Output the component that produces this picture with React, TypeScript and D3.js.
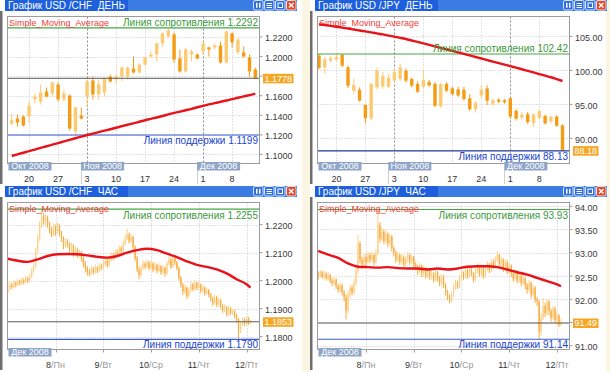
import React from 'react';
import * as d3 from 'd3';

type Bar = [number, number, number, number]; // open, high, low, close

const FONT = '"Liberation Sans", Arial, sans-serif';

// x axis of the daily charts (indices of trading days, first bar = 15 Oct 2008)
const dailyMondays = [3, 8, 13, 18, 23, 28, 33, 38];
const dailyDayLabels = ['20', '27', '3', '10', '17', '24', '1', '8'];
const dailyMonthStarts = [0, 13, 33];
const dailyMonthLabels = ['Окт 2008', 'Ноя 2008', 'Дек 2008'];

// x axis of the hourly charts (hour indices)
const hourDayStarts = [24, 48, 72, 96, 120];
const hourDayNums = ['8', '9', '10', '11', '12'];
const hourDayNames = ['Пн', 'Вт', 'Ср', 'Чт', 'Пт'];
const hourMonthLabels = ['Дек 2008'];

const chfDailyTicks = [1.1, 1.12, 1.14, 1.16, 1.18, 1.2, 1.22];
const jpyDailyTicks = [90, 95, 100, 105];
const chfHourTicks = [1.18, 1.19, 1.2, 1.21, 1.22];
const jpyHourTicks = [91, 91.5, 92, 92.5, 93, 93.5, 94];

const chfDailyBars: Bar[] = [
  [1.1316, 1.1419, 1.1296, 1.135], [1.1367, 1.1408, 1.1286, 1.1327], [1.1388, 1.1398, 1.1286, 1.1296],
  [1.1388, 1.1541, 1.1327, 1.15], [1.1562, 1.1623, 1.1521, 1.1592], [1.1541, 1.1715, 1.151, 1.1633],
  [1.1643, 1.1684, 1.1582, 1.1592], [1.1623, 1.1745, 1.1592, 1.1735], [1.1715, 1.1735, 1.1541, 1.1562],
  [1.1562, 1.1664, 1.1541, 1.1623], [1.1602, 1.1613, 1.1245, 1.1265], [1.1235, 1.149, 1.1199, 1.148],
  [1.1398, 1.148, 1.1357, 1.1367], [1.1592, 1.1766, 1.148, 1.1745], [1.1756, 1.1796, 1.1562, 1.1613],
  [1.1613, 1.1766, 1.1562, 1.1715], [1.1633, 1.1786, 1.1592, 1.1776], [1.1796, 1.1817, 1.1735, 1.1745],
  [1.1766, 1.1817, 1.1715, 1.1796], [1.1796, 1.1899, 1.1745, 1.1888], [1.1796, 1.1899, 1.1766, 1.1888],
  [1.1878, 1.2001, 1.1827, 1.1837], [1.1837, 1.1929, 1.1827, 1.1919], [1.1919, 1.2001, 1.1909, 1.199],
  [1.2001, 1.2052, 1.199, 1.2021], [1.2021, 1.2144, 1.195, 1.2134], [1.2134, 1.2246, 1.2103, 1.2236],
  [1.2205, 1.2292, 1.2195, 1.2266], [1.2226, 1.2246, 1.194, 1.197], [1.198, 1.2072, 1.1837, 1.1848],
  [1.1848, 1.2093, 1.1837, 1.2072], [1.2021, 1.2072, 1.195, 1.2052], [1.2021, 1.2031, 1.197, 1.198],
  [1.2052, 1.2144, 1.2021, 1.2134], [1.2093, 1.2103, 1.2001, 1.2072], [1.2093, 1.2134, 1.2072, 1.2113],
  [1.2113, 1.2154, 1.1929, 1.194], [1.194, 1.2266, 1.1929, 1.2256], [1.2236, 1.2246, 1.2093, 1.2144],
  [1.2042, 1.2185, 1.2021, 1.2174], [1.2042, 1.2103, 1.199, 1.2001], [1.199, 1.2021, 1.1796, 1.1848],
  [1.1868, 1.1888, 1.1776, 1.1778],
];
const chfDailySma = [
  1.0985, 1.1002, 1.1018, 1.1035, 1.105, 1.1068, 1.1084, 1.11, 1.1117, 1.1133, 1.115, 1.1166, 1.1183, 1.1199,
  1.1213, 1.1228, 1.1244, 1.1258, 1.1273, 1.1289, 1.1304, 1.1318, 1.1334, 1.135, 1.1364, 1.1378, 1.1393,
  1.1409, 1.1425, 1.1438, 1.1452, 1.1466, 1.1482, 1.1497, 1.1511, 1.1524, 1.1538, 1.1551, 1.1566, 1.1579,
  1.1593, 1.1606, 1.162,
];

const jpyDailyBars: Bar[] = [
  [102.2, 102.42, 100.15, 100.35], [100.45, 102.0, 99.5, 101.6], [101.45, 102.1, 101.2, 101.8],
  [101.6, 102.4, 101.4, 102.0], [102.3, 102.4, 100.5, 100.7], [100.45, 100.7, 97.4, 97.75],
  [97.0, 98.8, 96.6, 97.85], [97.15, 97.5, 95.4, 95.55], [94.9, 95.0, 92.2, 92.95],
  [92.95, 98.2, 92.7, 98.0], [97.5, 100.4, 97.2, 100.0], [97.65, 99.8, 97.3, 99.15],
  [97.6, 99.5, 97.4, 98.9], [98.5, 100.3, 98.2, 99.75], [98.75, 101.0, 98.4, 100.45],
  [99.95, 100.3, 98.2, 98.5], [98.75, 98.95, 97.5, 97.75], [98.0, 98.4, 96.7, 96.85],
  [97.6, 100.1, 97.4, 98.6], [98.3, 98.6, 97.6, 97.8], [98.0, 98.3, 94.6, 94.8],
  [94.7, 98.2, 94.5, 98.0], [98.0, 98.3, 96.8, 97.0], [97.35, 97.6, 96.3, 96.5],
  [97.2, 97.6, 96.1, 96.3], [97.15, 97.6, 95.5, 95.8], [95.9, 96.5, 94.0, 94.3],
  [94.3, 95.5, 93.8, 95.2], [96.3, 97.8, 95.9, 97.15], [97.35, 97.8, 94.9, 95.55],
  [95.1, 95.9, 94.8, 95.6], [95.7, 95.9, 95.2, 95.4], [95.6, 95.8, 95.1, 95.3],
  [95.9, 96.0, 93.0, 93.2], [94.05, 94.3, 92.6, 92.9], [93.05, 93.9, 92.6, 93.5],
  [93.55, 93.9, 92.1, 92.4], [92.25, 93.7, 91.7, 93.5], [93.0, 94.3, 92.8, 94.0],
  [93.3, 93.5, 92.0, 92.2], [92.5, 93.3, 92.2, 93.2], [93.2, 93.4, 91.7, 91.85],
  [91.9, 92.05, 88.13, 88.18],
];
const jpyDailySma = [
  106.79, 106.68, 106.56, 106.43, 106.3, 106.15, 106.02, 105.88, 105.74, 105.6, 105.45, 105.3, 105.13,
  104.97, 104.8, 104.62, 104.41, 104.2, 103.98, 103.76, 103.53, 103.31, 103.09, 102.87, 102.66, 102.44,
  102.21, 101.98, 101.75, 101.52, 101.3, 101.07, 100.85, 100.62, 100.4, 100.17, 99.93, 99.7, 99.46,
  99.22, 98.99, 98.72, 98.44,
];

const chfHourBars: Bar[] = [
  [1.1958, 1.1988, 1.1951, 1.197], [1.197, 1.1995, 1.1963, 1.1985], [1.1985, 1.1992, 1.197, 1.1978],
  [1.1978, 1.2001, 1.1972, 1.1992], [1.1992, 1.1998, 1.1976, 1.1985], [1.1985, 1.2008, 1.198, 1.1998],
  [1.1998, 1.2003, 1.1982, 1.199], [1.199, 1.2012, 1.1985, 1.2003], [1.2003, 1.2008, 1.1986, 1.1995],
  [1.1995, 1.2018, 1.199, 1.2008], [1.2008, 1.2014, 1.1991, 1.2], [1.2, 1.2024, 1.1995, 1.2015],
  [1.2015, 1.2045, 1.201, 1.2035], [1.2035, 1.2064, 1.2028, 1.205], [1.205, 1.2118, 1.2045, 1.2105],
  [1.2105, 1.2165, 1.2098, 1.215], [1.215, 1.2212, 1.214, 1.2195], [1.2195, 1.2255, 1.2188, 1.223],
  [1.223, 1.2242, 1.22, 1.2215], [1.2215, 1.2238, 1.2196, 1.2225], [1.2225, 1.2232, 1.2188, 1.22],
  [1.22, 1.221, 1.2168, 1.218], [1.218, 1.2192, 1.2155, 1.2165], [1.2165, 1.2204, 1.2158, 1.219],
  [1.219, 1.22, 1.216, 1.2175], [1.2175, 1.2208, 1.2168, 1.2195], [1.2195, 1.2202, 1.2158, 1.217],
  [1.217, 1.2178, 1.2138, 1.215], [1.215, 1.2158, 1.2112, 1.2125], [1.2125, 1.2152, 1.2116, 1.214],
  [1.214, 1.2148, 1.2118, 1.213], [1.213, 1.2138, 1.2098, 1.211], [1.211, 1.2136, 1.2102, 1.2125],
  [1.2125, 1.213, 1.2085, 1.2095], [1.2095, 1.2122, 1.2088, 1.211], [1.211, 1.2118, 1.208, 1.209],
  [1.209, 1.2112, 1.2082, 1.21], [1.21, 1.2106, 1.2068, 1.208], [1.208, 1.2088, 1.2048, 1.206],
  [1.206, 1.207, 1.203, 1.2045], [1.2045, 1.2052, 1.2018, 1.203], [1.203, 1.2042, 1.2015, 1.2025],
  [1.2025, 1.2052, 1.202, 1.204], [1.204, 1.2048, 1.2022, 1.203], [1.203, 1.2058, 1.2025, 1.2045],
  [1.2045, 1.2052, 1.2026, 1.2035], [1.2035, 1.2062, 1.203, 1.205], [1.205, 1.206, 1.2036, 1.2045],
  [1.2045, 1.2072, 1.204, 1.206], [1.206, 1.2082, 1.2052, 1.207], [1.207, 1.2078, 1.2046, 1.2055],
  [1.2055, 1.2086, 1.205, 1.2075], [1.2075, 1.2102, 1.2068, 1.209], [1.209, 1.2098, 1.2072, 1.208],
  [1.208, 1.2112, 1.2075, 1.21], [1.21, 1.211, 1.2086, 1.2095], [1.2095, 1.2126, 1.209, 1.2115],
  [1.2115, 1.2124, 1.2096, 1.2105], [1.2105, 1.2142, 1.21, 1.213], [1.213, 1.2164, 1.2124, 1.215],
  [1.215, 1.2185, 1.2144, 1.2165], [1.2165, 1.2172, 1.2132, 1.214], [1.214, 1.217, 1.2134, 1.2155],
  [1.2155, 1.216, 1.211, 1.212], [1.212, 1.2126, 1.207, 1.208], [1.208, 1.2088, 1.203, 1.204],
  [1.204, 1.205, 1.2005, 1.202], [1.202, 1.2056, 1.2015, 1.2045], [1.2045, 1.2072, 1.2038, 1.206],
  [1.206, 1.2068, 1.204, 1.205], [1.205, 1.2076, 1.2044, 1.2065], [1.2065, 1.207, 1.2036, 1.2045],
  [1.2045, 1.2072, 1.204, 1.206], [1.206, 1.2066, 1.203, 1.204], [1.204, 1.2066, 1.2034, 1.2055],
  [1.2055, 1.206, 1.2026, 1.2035], [1.2035, 1.2062, 1.203, 1.205], [1.205, 1.2056, 1.202, 1.203],
  [1.203, 1.2056, 1.2024, 1.2045], [1.2045, 1.205, 1.2014, 1.2025], [1.2025, 1.207, 1.202, 1.206],
  [1.206, 1.2088, 1.2054, 1.2075], [1.2075, 1.2082, 1.2042, 1.205], [1.205, 1.2092, 1.2045, 1.208],
  [1.208, 1.2086, 1.2056, 1.2065], [1.2065, 1.207, 1.2036, 1.2045], [1.2045, 1.205, 1.2, 1.201],
  [1.201, 1.2016, 1.1975, 1.1985], [1.1985, 1.1992, 1.1948, 1.196], [1.196, 1.1986, 1.1952, 1.1975],
  [1.1975, 1.198, 1.1935, 1.1945], [1.1945, 1.1975, 1.194, 1.1965], [1.1965, 1.1995, 1.196, 1.1985],
  [1.1985, 1.1992, 1.1962, 1.197], [1.197, 1.2002, 1.1964, 1.199], [1.199, 1.1996, 1.1966, 1.1975],
  [1.1975, 1.1996, 1.1968, 1.1985], [1.1985, 1.199, 1.1955, 1.1965], [1.1965, 1.1986, 1.1958, 1.1975],
  [1.1975, 1.198, 1.1946, 1.1955], [1.1955, 1.1975, 1.1948, 1.1965], [1.1965, 1.197, 1.194, 1.195],
  [1.195, 1.1956, 1.1925, 1.1935], [1.1935, 1.1942, 1.191, 1.192], [1.192, 1.195, 1.1914, 1.194],
  [1.194, 1.1946, 1.1905, 1.1915], [1.1915, 1.194, 1.1908, 1.193], [1.193, 1.1936, 1.19, 1.191],
  [1.191, 1.1916, 1.1885, 1.1895], [1.1895, 1.1916, 1.1888, 1.1905], [1.1905, 1.191, 1.1872, 1.188],
  [1.188, 1.191, 1.1874, 1.19], [1.19, 1.1906, 1.1878, 1.1885], [1.1885, 1.1898, 1.1876, 1.189],
  [1.189, 1.1896, 1.1866, 1.1875], [1.1875, 1.1882, 1.185, 1.186], [1.186, 1.1866, 1.179, 1.182],
  [1.182, 1.1856, 1.1812, 1.1845], [1.1845, 1.187, 1.1838, 1.186], [1.186, 1.1866, 1.1838, 1.1845],
  [1.1845, 1.1872, 1.184, 1.1865], [1.1865, 1.187, 1.1842, 1.185], [1.185, 1.186, 1.1844, 1.1853],
];
const chfHourSmaAt = [0, 5, 10, 15, 20, 25, 30, 35, 40, 45, 50, 55, 60, 65, 70, 75, 80, 85, 90, 95, 100, 105, 110, 115, 120, 122];
const chfHourSma = [
  1.2078, 1.2071, 1.2067, 1.2076, 1.2088, 1.2094, 1.2095, 1.2094, 1.209, 1.2085, 1.2082, 1.2088, 1.21,
  1.2109, 1.2114, 1.2109, 1.2096, 1.2084, 1.2069, 1.2056, 1.2049, 1.204, 1.2026, 1.2005, 1.1987, 1.1975,
];

const jpyHourBars: Bar[] = [
  [92.55, 92.6, 92.42, 92.5], [92.5, 92.63, 92.46, 92.58], [92.58, 92.62, 92.44, 92.48],
  [92.48, 92.61, 92.43, 92.55], [92.55, 92.58, 92.4, 92.45], [92.45, 92.58, 92.4, 92.52],
  [92.52, 92.55, 92.35, 92.4], [92.4, 92.46, 92.28, 92.35], [92.35, 92.48, 92.3, 92.42],
  [92.42, 92.45, 92.22, 92.28], [92.28, 92.33, 92.14, 92.2], [92.2, 92.36, 92.15, 92.3],
  [92.3, 92.34, 92.08, 92.15], [92.15, 92.2, 91.95, 92.05], [92.05, 92.1, 91.57, 91.75],
  [91.75, 92.18, 91.7, 92.1], [92.1, 92.32, 92.02, 92.25], [92.25, 92.3, 92.08, 92.15],
  [92.15, 92.43, 92.1, 92.35], [92.35, 92.7, 92.3, 92.6], [92.6, 93.38, 92.55, 93.2],
  [93.2, 93.25, 92.78, 92.85], [92.85, 92.92, 92.66, 92.75], [92.75, 92.98, 92.7, 92.9],
  [92.9, 92.96, 92.72, 92.8], [92.8, 93.02, 92.74, 92.95], [92.95, 93.0, 92.78, 92.85],
  [92.85, 93.03, 92.8, 92.95], [92.95, 92.98, 92.72, 92.8], [92.8, 93.08, 92.76, 93.0],
  [93.0, 93.93, 92.95, 93.6], [93.6, 93.66, 93.22, 93.3], [93.3, 93.55, 93.25, 93.45],
  [93.45, 93.5, 93.18, 93.25], [93.25, 93.48, 93.2, 93.4], [93.4, 93.44, 93.12, 93.2],
  [93.2, 93.42, 93.15, 93.35], [93.35, 93.38, 93.02, 93.1], [93.1, 93.15, 92.92, 93.0],
  [93.0, 93.05, 92.78, 92.85], [92.85, 93.02, 92.8, 92.95], [92.95, 92.98, 92.74, 92.8],
  [92.8, 92.97, 92.75, 92.9], [92.9, 92.94, 92.68, 92.75], [92.75, 92.93, 92.7, 92.85],
  [92.85, 93.02, 92.8, 92.95], [92.95, 92.98, 92.74, 92.8], [92.8, 92.96, 92.75, 92.9],
  [92.9, 92.93, 92.68, 92.75], [92.75, 92.8, 92.62, 92.7], [92.7, 92.74, 92.52, 92.6],
  [92.6, 92.78, 92.56, 92.72], [92.72, 92.75, 92.48, 92.55], [92.55, 92.72, 92.5, 92.65],
  [92.65, 92.68, 92.44, 92.5], [92.5, 92.68, 92.46, 92.62], [92.62, 92.66, 92.42, 92.48],
  [92.48, 92.62, 92.42, 92.55], [92.55, 92.58, 92.36, 92.42], [92.42, 92.65, 92.38, 92.58],
  [92.58, 92.62, 92.38, 92.45], [92.45, 92.5, 92.28, 92.35], [92.35, 92.54, 92.3, 92.48],
  [92.48, 92.52, 92.24, 92.3], [92.3, 92.35, 92.08, 92.15], [92.15, 92.2, 91.98, 92.05],
  [92.05, 92.1, 91.92, 91.95], [91.95, 92.16, 91.93, 92.1], [92.1, 92.32, 92.05, 92.25],
  [92.25, 92.42, 92.2, 92.35], [92.35, 92.4, 92.22, 92.28], [92.28, 92.52, 92.24, 92.45],
  [92.45, 92.62, 92.4, 92.55], [92.55, 92.6, 92.42, 92.48], [92.48, 92.68, 92.44, 92.62],
  [92.62, 92.66, 92.44, 92.5], [92.5, 92.72, 92.46, 92.65], [92.65, 92.7, 92.5, 92.55],
  [92.55, 92.58, 92.36, 92.42], [92.42, 92.67, 92.38, 92.6], [92.6, 92.77, 92.55, 92.7],
  [92.7, 92.74, 92.48, 92.55], [92.55, 92.75, 92.5, 92.68], [92.68, 92.72, 92.44, 92.5],
  [92.5, 92.72, 92.46, 92.65], [92.65, 92.82, 92.6, 92.75], [92.75, 92.78, 92.56, 92.62],
  [92.62, 92.87, 92.58, 92.8], [92.8, 92.85, 92.64, 92.7], [92.7, 92.92, 92.66, 92.85],
  [92.85, 93.03, 92.8, 92.95], [92.95, 92.98, 92.7, 92.75], [92.75, 92.92, 92.7, 92.85],
  [92.85, 92.88, 92.58, 92.65], [92.65, 92.86, 92.6, 92.8], [92.8, 92.84, 92.54, 92.6],
  [92.6, 92.78, 92.56, 92.72], [92.72, 92.75, 92.48, 92.55], [92.55, 92.6, 92.38, 92.45],
  [92.45, 92.64, 92.4, 92.58], [92.58, 92.62, 92.34, 92.4], [92.4, 92.56, 92.35, 92.5],
  [92.5, 92.54, 92.28, 92.35], [92.35, 92.52, 92.3, 92.45], [92.45, 92.48, 92.22, 92.3],
  [92.3, 92.35, 92.12, 92.2], [92.2, 92.42, 92.15, 92.35], [92.35, 92.38, 92.02, 92.1],
  [92.1, 92.32, 92.05, 92.25], [92.25, 92.28, 91.92, 92.0], [92.0, 92.05, 91.85, 91.95],
  [91.95, 91.98, 91.14, 91.3], [91.3, 91.7, 91.22, 91.6], [91.6, 92.02, 91.55, 91.85],
  [91.85, 91.92, 91.62, 91.7], [91.7, 92.0, 91.65, 91.95], [91.95, 91.98, 91.66, 91.75],
  [91.75, 91.8, 91.52, 91.6], [91.6, 91.86, 91.55, 91.8], [91.8, 91.84, 91.48, 91.55],
  [91.55, 91.72, 91.44, 91.65], [91.65, 91.68, 91.4, 91.45], [91.45, 91.58, 91.42, 91.49],
];
const jpyHourSmaAt = [0, 5, 10, 15, 20, 25, 30, 35, 40, 45, 50, 55, 60, 65, 70, 75, 80, 85, 90, 95, 100, 105, 110, 115, 120, 122];
const jpyHourSma = [
  93.04, 92.96, 92.89, 92.77, 92.7, 92.69, 92.68, 92.69, 92.67, 92.66, 92.66, 92.64, 92.66, 92.64, 92.66,
  92.7, 92.71, 92.71, 92.69, 92.64, 92.58, 92.53, 92.46, 92.39, 92.32, 92.28,
];

const PL = 7.5, PR = 259.5, PT = 16.5, PB = 163.5;

type PanelProps = {
  id: string;
  dx: number;
  dy: number;
  title: string;
  bars: Bar[];
  sma: [number, number][];
  yDomain: [number, number];
  yTicks: number[];
  digits: number;
  xRange: [number, number];
  resistance: number;
  support: number;
  current: number;
  daily: boolean;
};

function TitleBar({ title }: { title: string }) {
  const btn = [253, 264, 275, 286];
  return (
    <g>
      <rect x={5} y={0} width={292} height={11} fill="#3b7be4" />
      <rect x={5} y={0} width={123} height={11} fill="#1d5fdc" />
      <text x={8} y={9} fill="#fff" fontSize={10} fontFamily={FONT} style={{ whiteSpace: 'pre' }}>{title}</text>
      {btn.map((bx, i) => (
        <g key={i}>
          <rect x={bx + 0.5} y={0.5} width={9.5} height={9.5} rx={1.5} fill={i === 3 ? '#e2492b' : '#2f6ee0'} stroke="#fff" strokeWidth={0.8} />
          {i === 0 && <g fill="#fff"><rect x={bx + 3} y={2.8} width={1.5} height={5} /><rect x={bx + 6} y={2.8} width={1.5} height={5} /></g>}
          {i === 1 && <g stroke="#fff" strokeWidth={1}><line x1={bx + 2.5} x2={bx + 8} y1={3.5} y2={3.5} /><line x1={bx + 2.5} x2={bx + 8} y1={5.5} y2={5.5} /><line x1={bx + 2.5} x2={bx + 8} y1={7.5} y2={7.5} /></g>}
          {i === 2 && <rect x={bx + 3} y={3} width={4.5} height={4.5} fill="none" stroke="#fff" strokeWidth={1} />}
          {i === 3 && <g stroke="#fff" strokeWidth={1.4}><line x1={bx + 3} x2={bx + 7.5} y1={3} y2={7.5} /><line x1={bx + 7.5} x2={bx + 3} y1={3} y2={7.5} /></g>}
        </g>
      ))}
    </g>
  );
}

function Panel(p: PanelProps) {
  const x = d3.scaleLinear().domain([0, p.bars.length - 1]).range(p.xRange);
  const y = d3.scaleLinear().domain(p.yDomain).range([PB, PT]);
  const fmt = d3.format(`.${p.digits}f`);
  const smaLine = d3.line<[number, number]>().x(d => x(d[0])).y(d => y(d[1])).curve(d3.curveMonotoneX);
  const light = p.daily ? '#fcca72' : '#fdd08a';
  const dark = p.daily ? '#f59c16' : '#f7ae42';
  const bodyW = p.daily ? 3.4 : 1.3;
  const yCur = y(p.current);
  const yRes = y(p.resistance);
  const ySup = y(p.support);
  const resAbove = yRes - PT >= 10;
  const curText = fmt(p.current);
  const curW = curText.replace('.', '').length * 5 + 5.5;

  return (
    <g transform={`translate(${p.dx},${p.dy})`} fontFamily={FONT}>
      <defs>
        <clipPath id={`clip-${p.id}`}><rect x={PL} y={PT} width={PR - PL} height={PB - PT} /></clipPath>
      </defs>
      <TitleBar title={p.title} />
      <rect x={0} y={11} width={2.5} height={173} fill="#6e6e6e" />

      {/* grid */}
      {p.yTicks.map((t, i) => (
        <line key={i} x1={PL} x2={PR} y1={Math.round(y(t)) + 0.5} y2={Math.round(y(t)) + 0.5} stroke="#c4c4c4" strokeDasharray="1,2" />
      ))}
      {p.daily
        ? dailyMondays.map((m, i) => {
            const month = dailyMonthStarts.includes(m);
            return <line key={i} x1={Math.round(x(m)) + 0.5} x2={Math.round(x(m)) + 0.5} y1={PT} y2={PB} stroke={month ? '#8a8a8a' : '#c4c4c4'} strokeDasharray={month ? '2,2' : '1,2'} />;
          })
        : hourDayStarts.map((h, i) => (
            <line key={i} x1={Math.round(x(h)) + 0.5} x2={Math.round(x(h)) + 0.5} y1={PT} y2={PB} stroke="#c4c4c4" strokeDasharray="1,2" />
          ))}

      <g clipPath={`url(#clip-${p.id})`}>
        {p.bars.map((b, i) => {
          const [o, h, l, c] = b;
          const col = c >= o ? light : dark;
          const cx = x(i);
          const top = y(Math.max(o, c));
          const bot = y(Math.min(o, c));
          return (
            <g key={i}>
              <line x1={cx} x2={cx} y1={y(h)} y2={y(l)} stroke={col} strokeWidth={1} />
              <rect x={cx - bodyW / 2} y={top} width={bodyW} height={Math.max(1, bot - top)} fill={col} />
            </g>
          );
        })}
        <line x1={PL} x2={PR} y1={yCur} y2={yCur} stroke="#5a5a5a" strokeWidth={1} />
        <line x1={PL} x2={PR} y1={yRes} y2={yRes} stroke="#45a845" strokeWidth={1.2} />
        <line x1={PL} x2={PR} y1={ySup} y2={ySup} stroke="#3b5bd6" strokeWidth={1.2} />
        <text x={9} y={26} fontSize={9} fill="#f03c3c">Simple_Moving_Average</text>
        <path d={smaLine(p.sma) || ''} fill="none" stroke="#e8121a" strokeWidth={2.4} />
      </g>

      <text x={PR - 1.5} y={resAbove ? yRes - 2 : yRes + 9.5} fontSize={10} fill="#3c9a3c" textAnchor="end">
        {`Линия сопротивления ${fmt(p.resistance)}`}
      </text>
      <text x={PR - 1.5} y={ySup + 9} fontSize={10} fill="#2244d0" textAnchor="end">
        {`Линия поддержки ${fmt(p.support)}`}
      </text>

      <rect x={PL} y={PT} width={PR - PL} height={PB - PT} fill="none" stroke="#9c9c9c" strokeWidth={1} />

      {/* price axis */}
      {p.yTicks.map((t, i) => (
        <g key={i}>
          <line x1={PR} x2={PR + 3} y1={y(t)} y2={y(t)} stroke="#9c9c9c" />
          {Math.abs(y(t) - yCur) > 9 && (
            <text x={265} y={y(t) + 4.5} fontSize={9} fill="#3a3a3a">{fmt(t)}</text>
          )}
        </g>
      ))}
      <rect x={263} y={yCur - 4.5} width={curW} height={9.5} fill="#f6a623" />
      <text x={264.5} y={yCur + 3.5} fontSize={9} fill="#fff">{curText}</text>

      {/* time axis */}
      {p.daily ? (
        <g>
          {dailyMonthStarts.map((m, i) => {
            const bx = Math.max(PL + 1, x(m) - 6);
            return (
              <g key={i}>
                {i > 0 && <line x1={Math.round(bx) + 0.5} x2={Math.round(bx) + 0.5} y1={170} y2={184} stroke="#d0d0d0" />}
                <rect x={bx} y={162} width={43} height={8.5} fill="#8ea5c7" />
                <text x={bx + 21.5} y={169.3} fontSize={9} fill="#fff" textAnchor="middle">{dailyMonthLabels[i]}</text>
              </g>
            );
          })}
          {dailyMondays.map((m, i) => (
            <text key={i} x={x(m)} y={181.5} fontSize={9} fill="#333" textAnchor="middle">{dailyDayLabels[i]}</text>
          ))}
        </g>
      ) : (
        <g>
          <rect x={PL + 1} y={162} width={43} height={8.5} fill="#8ea5c7" />
          <text x={PL + 22.5} y={169.3} fontSize={9} fill="#fff" textAnchor="middle">{hourMonthLabels[0]}</text>
          {hourDayStarts.map((h, i) => (
            <g key={i}>
              <line x1={Math.round(x(h)) + 0.5} x2={Math.round(x(h)) + 0.5} y1={PB} y2={PB + 3} stroke="#9c9c9c" />
              <text x={x(h)} y={181.5} fontSize={9} textAnchor="middle">
                <tspan fill="#333">{hourDayNums[i]}</tspan>
                <tspan fill="#999">{`/${hourDayNames[i]}`}</tspan>
              </text>
            </g>
          ))}
        </g>
      )}
    </g>
  );
}

export default function App() {
  const idx = (arr: number[]) => arr.map((v, i) => [i, v] as [number, number]);
  const pairs = (at: number[], vals: number[]) => vals.map((v, i) => [at[i], v] as [number, number]);
  return (
    <svg width={610} height={372} style={{ position: 'absolute', left: 0, top: 0 }}>
      <rect x={0} y={0} width={610} height={372} fill="#fff" />
      <rect x={302} y={0} width={8} height={372} fill="#fbf6e4" />
      <rect x={606} y={0} width={4} height={372} fill="#fbf6e4" />
      <Panel id="p1" dx={0} dy={0} title="График USD /CHF  ДЕНЬ" bars={chfDailyBars} sma={idx(chfDailySma)}
        yDomain={[1.0908, 1.2409]} yTicks={chfDailyTicks} digits={4} xRange={[11.7, 255.3]}
        resistance={1.2292} support={1.1199} current={1.1778} daily />
      <Panel id="p2" dx={310} dy={0} title="График USD /JPY  ДЕНЬ" bars={jpyDailyBars} sma={idx(jpyDailySma)}
        yDomain={[86.29, 107.94]} yTicks={jpyDailyTicks} digits={2} xRange={[9.0, 252.5]}
        resistance={102.42} support={88.13} current={88.18} daily />
      <Panel id="p3" dx={0} dy={186} title="График USD /CHF  ЧАС" bars={chfHourBars} sma={pairs(chfHourSmaAt, chfHourSma)}
        yDomain={[1.1754, 1.2279]} yTicks={chfHourTicks} digits={4} xRange={[7.8, 250.5]}
        resistance={1.2255} support={1.179} current={1.1853} daily={false} />
      <Panel id="p4" dx={310} dy={186} title="График USD /JPY  ЧАС" bars={jpyHourBars} sma={pairs(jpyHourSmaAt, jpyHourSma)}
        yDomain={[90.92, 94.08]} yTicks={jpyHourTicks} digits={2} xRange={[8.2, 251.0]}
        resistance={93.93} support={91.14} current={91.49} daily={false} />
    </svg>
  );
}
